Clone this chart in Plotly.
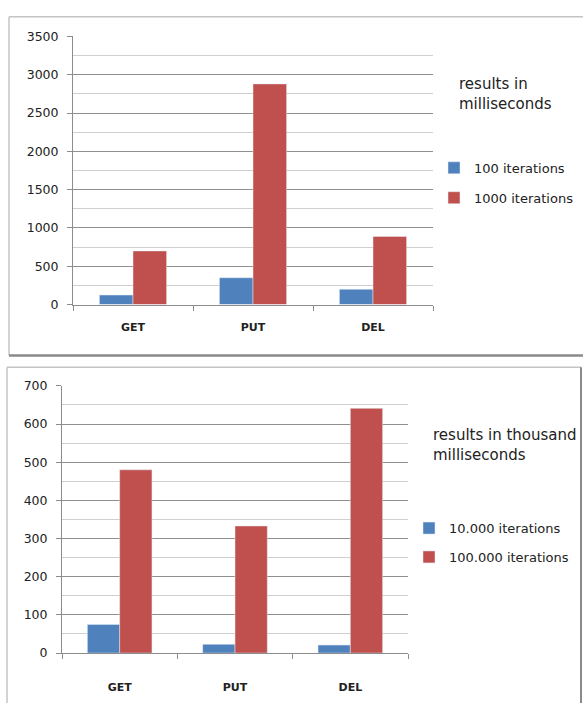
import plotly.graph_objects as go

W, H = 583, 710

categories = ["GET", "PUT", "DEL"]

top_series_names = ["100 iterations", "1000 iterations"]
top_100 = [125, 350, 200]
top_1000 = [700, 2880, 890]
top_y_ticks = [0, 500, 1000, 1500, 2000, 2500, 3000, 3500]

bot_series_names = ["10.000 iterations", "100.000 iterations"]
bot_10k = [75, 23, 21]
bot_100k = [480, 333, 641]
bot_y_ticks = [0, 100, 200, 300, 400, 500, 600, 700]

top_title = "results in<br>milliseconds"
bot_title = "results in thousand<br>milliseconds"

BLUE = "#4F81BD"
RED = "#C0504D"
FONT = "DejaVu Sans"


def px(x):
    return x / W


def py(y):
    return 1 - y / H


fig = go.Figure()

fig.add_trace(go.Bar(x=categories, y=top_100, name=top_series_names[0], marker_color=BLUE,
                     xaxis="x", yaxis="y", legend="legend", legendgroup="a"))
fig.add_trace(go.Bar(x=categories, y=top_1000, name=top_series_names[1], marker_color=RED,
                     xaxis="x", yaxis="y", legend="legend", legendgroup="b"))
fig.add_trace(go.Bar(x=categories, y=bot_10k, name=bot_series_names[0], marker_color=BLUE,
                     xaxis="x2", yaxis="y2", legend="legend2", legendgroup="c"))
fig.add_trace(go.Bar(x=categories, y=bot_100k, name=bot_series_names[1], marker_color=RED,
                     xaxis="x2", yaxis="y2", legend="legend2", legendgroup="d"))

axis_line = "#8c8c8c"
grid_major = "#8f8f8f"
grid_minor = "#cfcfcf"

xcommon = dict(type="category", showline=True, linecolor=axis_line, linewidth=1,
               ticks="outside", tickson="boundaries", ticklen=5, tickcolor=axis_line,
               showgrid=False, tickfont=dict(family=FONT, size=11, color="#222", weight="bold"),
               fixedrange=True)
ycommon = dict(showline=True, linecolor=axis_line, linewidth=1, ticks="outside", ticklen=5,
               tickcolor=axis_line, showgrid=True, gridcolor=grid_major, gridwidth=1,
               zeroline=False, tickfont=dict(family=FONT, size=12.5, color="#222"),
               ticklabelstandoff=6, fixedrange=True)

fig.update_layout(
    width=W, height=H,
    margin=dict(l=0, r=0, t=0, b=0),
    paper_bgcolor="white", plot_bgcolor="white",
    barmode="group", bargap=0.44, bargroupgap=0,
    font=dict(family=FONT, color="#222"),
    xaxis=dict(domain=[px(73), px(433)], anchor="y", ticklabelstandoff=12, **xcommon),
    yaxis=dict(domain=[py(303), py(29)], anchor="x", range=[0, 3500], tickvals=top_y_ticks,
               minor=dict(dtick=250, showgrid=True, gridcolor=grid_minor, ticks=""), **ycommon),
    xaxis2=dict(domain=[px(62), px(408)], anchor="y2", ticklabelstandoff=24, **xcommon),
    yaxis2=dict(domain=[py(659), py(386)], anchor="x2", range=[0, 700], tickvals=bot_y_ticks,
                minor=dict(dtick=50, showgrid=True, gridcolor=grid_minor, ticks=""), **ycommon),
    legend=dict(x=px(434), y=py(148), xanchor="left", yanchor="top",
                font=dict(family=FONT, size=13, color="#222"), tracegroupgap=10,
                bgcolor="rgba(0,0,0,0)", itemclick=False, itemdoubleclick=False),
    legend2=dict(x=px(409), y=py(516), xanchor="left", yanchor="top",
                 font=dict(family=FONT, size=13, color="#222"), tracegroupgap=9,
                 bgcolor="rgba(0,0,0,0)", itemclick=False, itemdoubleclick=False),
    showlegend=True,
)

fig.add_annotation(text=top_title, xref="paper", yref="paper", x=px(457), y=py(88),
                   xanchor="left", yanchor="middle", align="left", showarrow=False,
                   font=dict(family=FONT, size=15, color="#222"))
fig.add_annotation(text=bot_title, xref="paper", yref="paper", x=px(431), y=py(446),
                   xanchor="left", yanchor="middle", align="left", showarrow=False,
                   font=dict(family=FONT, size=15, color="#222"))

# chart frames
light = "#c4c4c4"
dark = "#8a8a8a"
frame_lines = [
    (9, 9, 583, 9, light, 1.5),
    (9, 9, 9, 355, light, 1.5),
    (9, 355, 583, 355, dark, 2.5),
    (7, 367, 581, 367, light, 1.5),
    (7, 367, 7, 710, light, 1.5),
    (581, 367, 581, 710, dark, 2),
]
for x0, y0, x1, y1, c, w in frame_lines:
    fig.add_shape(type="line", xref="paper", yref="paper", x0=px(x0), y0=py(y0),
                  x1=px(x1), y1=py(y1), line=dict(color=c, width=w))

fig.write_html("out.html")
